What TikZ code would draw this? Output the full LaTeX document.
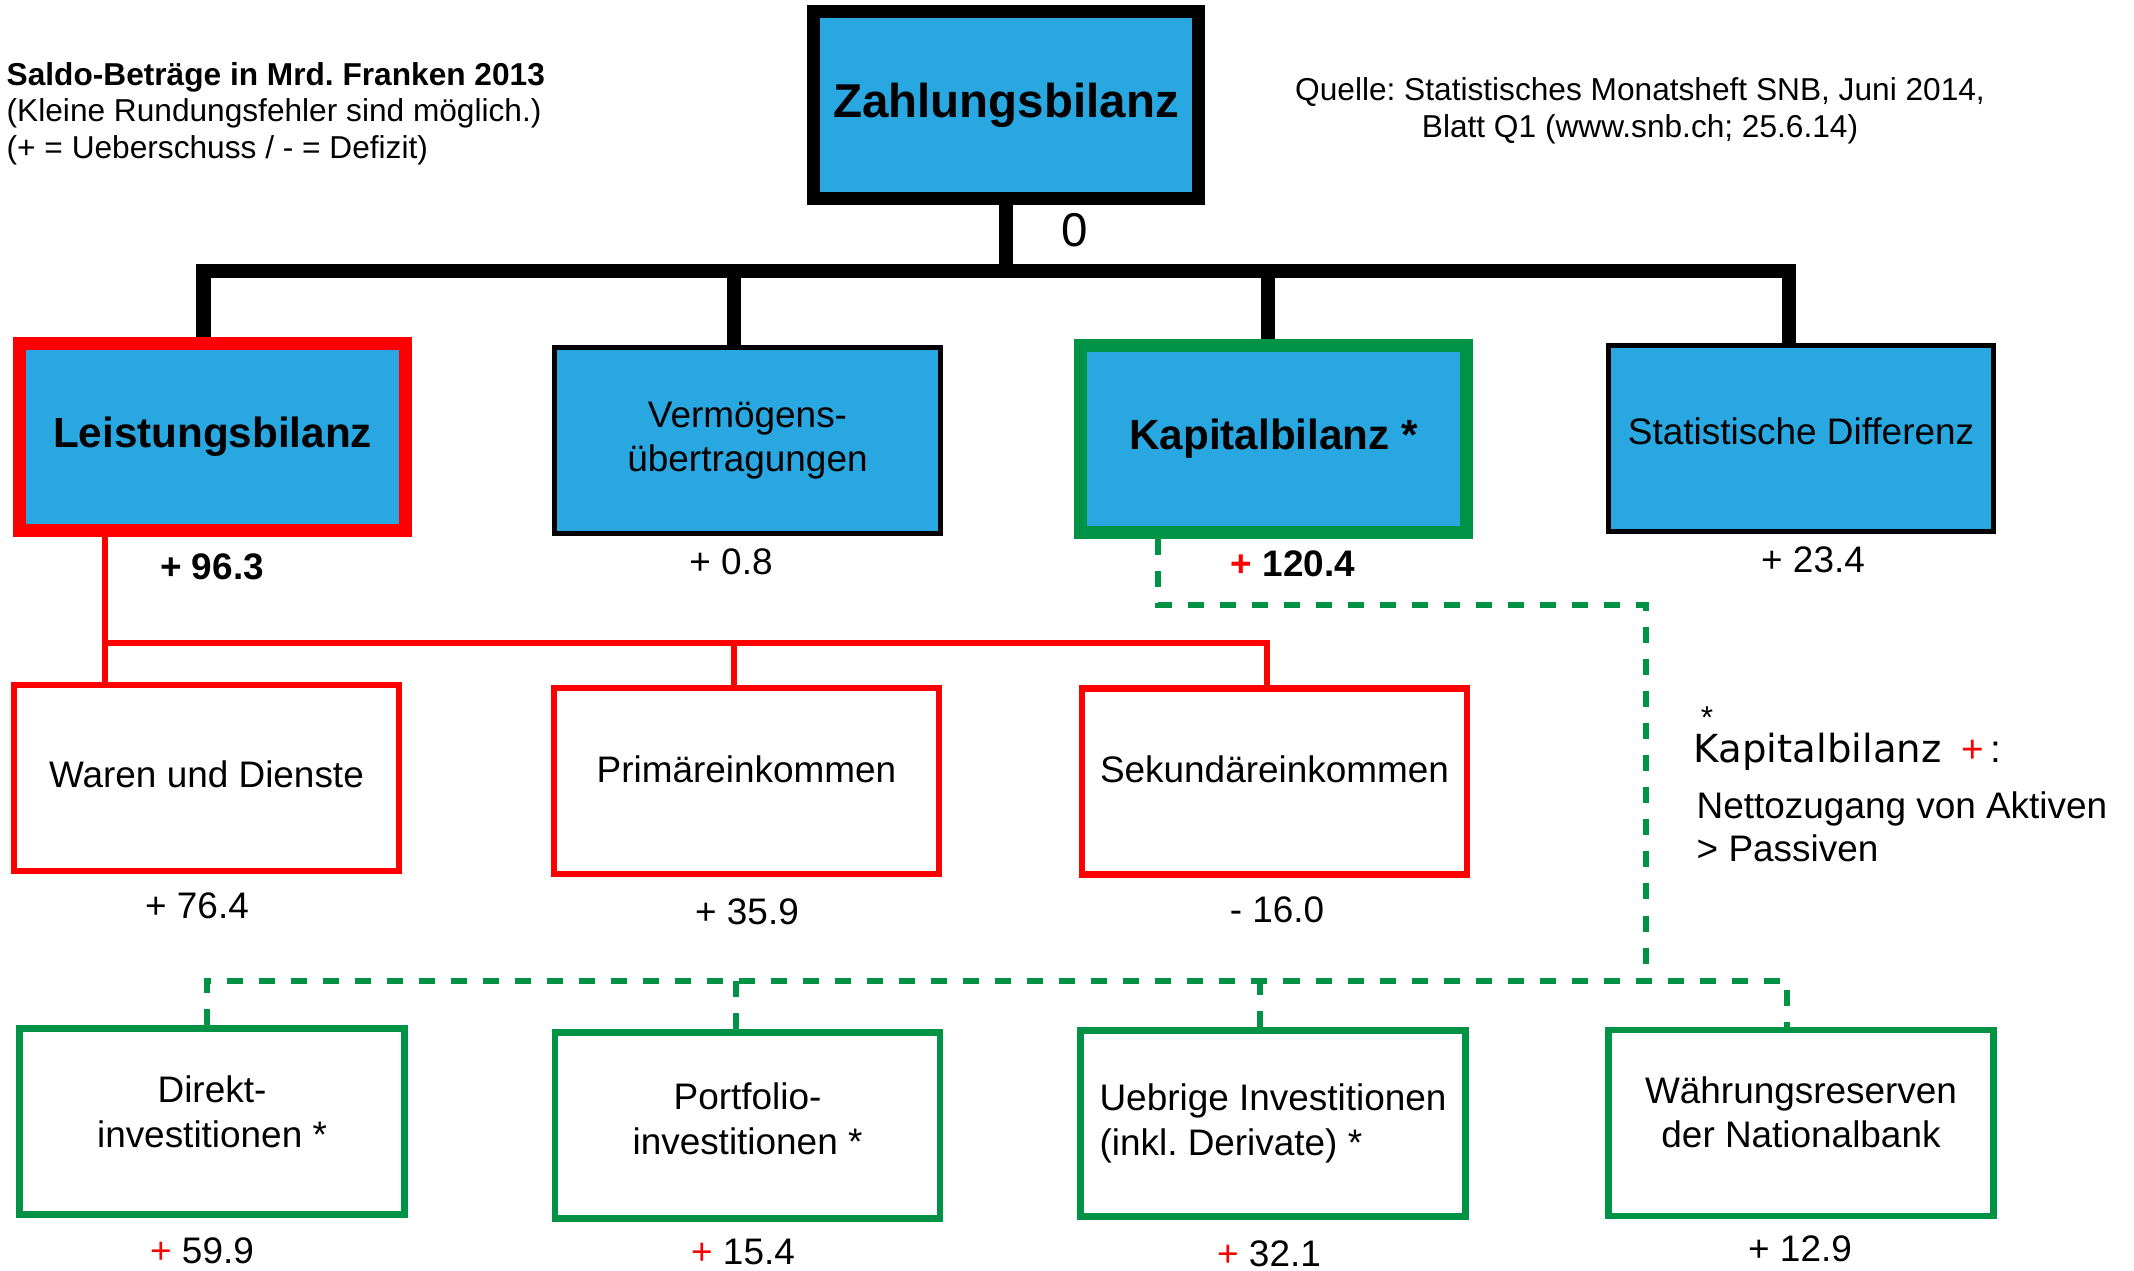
\documentclass[tikz,border=0pt]{standalone}
\usepackage{fontspec}
\setmainfont{Liberation Sans}
\newfontfamily\widefont{DejaVu Sans}
\frenchspacing
\usetikzlibrary{calc}

\definecolor{snbblue}{RGB}{41,167,224}
\definecolor{snbgreen}{RGB}{0,146,69}
\definecolor{snbred}{RGB}{255,0,0}

\tikzset{
  box/.style={draw, minimum width=3.85cm, minimum height=1.86cm, inner sep=0pt, align=center,
    font=\fontsize{10.5}{12.6}\selectfont},
  bluebox/.style={box, fill=snbblue, line width=0.05cm},
  bigbox/.style={box, fill=snbblue, line width=0.13cm, minimum height=1.87cm,
    font=\fontsize{12}{14}\selectfont\bfseries},
  redbox/.style={box, draw=snbred, line width=0.065cm},
  greenbox/.style={box, draw=snbgreen, line width=0.065cm},
  lift/.style={text depth=#1},
  value/.style={inner sep=0pt, font=\fontsize{10.5}{12.6}\selectfont},
  trunk/.style={line width=0.14cm},
  redline/.style={draw=snbred, line width=0.065cm},
  greenline/.style={draw=snbgreen, line width=0.065cm, dash pattern=on 0.16cm off 0.16cm},
}

\begin{document}
\begin{tikzpicture}[x=0.01cm, y=-0.01cm]
  \useasboundingbox (0,0) rectangle (2134,1271);

  % top
  \node (zb) [bigbox, draw=black, font=\fontsize{13.5}{16}\selectfont\bfseries] at (1006,105) {Zahlungsbilanz};
  \node (zero) [value, font=\fontsize{13.5}{16}\selectfont] at (1075,230) {0};

  % first row
  \node (lb) [bigbox, draw=snbred] at (212.5,437) {Leistungsbilanz};
  \node (vu) [bluebox] at (747.5,440.5) {Vermögens-\\übertragungen};
  \node (kb) [bigbox, draw=snbgreen] at (1273.5,439) {Kapitalbilanz *};
  \node (sd) [bluebox, lift=0.14cm] at (1801,438.5) {Statistische Differenz};

  \node (vlb) [value, font=\fontsize{10.5}{12.6}\selectfont\bfseries] at (212,567) {+ 96.3};
  \node (vvu) [value] at (731,562) {+ 0.8};
  \node (vkb) [value, font=\fontsize{10.5}{12.6}\selectfont\bfseries] at (1293,564) {\textcolor{snbred}{+} 120.4};
  \node (vsd) [value] at (1813,560) {+ 23.4};

  % second row
  \node (wd) [redbox, lift=0.08cm] at (206.5,778) {Waren und Dienste};
  \node (pe) [redbox, lift=0.24cm] at (746.5,781) {Primäreinkommen};
  \node (se) [redbox, lift=0.24cm] at (1274.5,781.5) {Sekundäreinkommen};

  \node (vwd) [value] at (197,906) {+ 76.4};
  \node (vpe) [value] at (747,912) {+ 35.9};
  \node (vse) [value] at (1277,910) {- 16.0};

  % third row
  \node (di) [greenbox, lift=0.2cm] at (212,1121.5) {Direkt-\\investitionen *};
  \node (po) [greenbox, lift=0.14cm] at (747.5,1125.5) {Portfolio-\\investitionen *};
  \node (ui) [greenbox, align=left] at (1273,1123.5) {Uebrige Investitionen\\(inkl. Derivate) *};
  \node (wr) [greenbox, lift=0.22cm] at (1801,1123) {Währungsreserven\\der Nationalbank};

  \node (vdi) [value] at (202,1251) {\textcolor{snbred}{+} 59.9};
  \node (vpo) [value] at (743,1252) {\textcolor{snbred}{+} 15.4};
  \node (vui) [value] at (1269,1254) {\textcolor{snbred}{+} 32.1};
  \node (vwr) [value] at (1800,1249) {+ 12.9};

  % texts
  \node (saldo) [inner sep=0pt, anchor=north west, align=left, font=\fontsize{9}{10.3}\selectfont]
    at (6,62) {\textbf{Saldo-Beträge in Mrd. Franken 2013}\\(Kleine Rundungsfehler sind möglich.)\\(+ = Ueberschuss / - = Defizit)};
  \node (quelle) [inner sep=0pt, align=center, font=\fontsize{9}{10.5}\selectfont]
    at (1640,111) {Quelle: Statistisches Monatsheft SNB, Juni 2014,\\Blatt Q1 (www.snb.ch; 25.6.14)};
  \node (legstar) [inner sep=0pt, font=\fontsize{9}{10}\selectfont] at (1707,718) {*};
  \node (legkb) [inner sep=0pt, anchor=base west, font=\fontsize{11}{13}\selectfont]
    at (1693,763) {{\widefont Kapitalbilanz}\hspace{0.2cm}\textcolor{snbred}{+}\,:};
  \node (legtext) [inner sep=0pt, anchor=north west, align=left, font=\fontsize{10.5}{12.1}\selectfont]
    at (1696,791) {Nettozugang von Aktiven\\> Passiven};

  % black connectors
  \coordinate (blackbus) at (0,271);
  \draw[trunk] (zb.south) -- (zb.south |- blackbus);
  \draw[trunk] ([xshift=-0.09cm]lb.north) |- ([xshift=-0.12cm]sd.north |- blackbus) -- ([xshift=-0.12cm]sd.north);
  \draw[trunk] ([xshift=-0.135cm]vu.north) -- ([xshift=-0.135cm]vu.north |- blackbus);
  \draw[trunk] ([xshift=-0.055cm]kb.north) -- ([xshift=-0.055cm]kb.north |- blackbus);

  % red connectors
  \coordinate (redbus) at (0,643);
  \draw[redline] ([xshift=-1.075cm]lb.south) -- ([xshift=-1.075cm]lb.south |- wd.north);
  \draw[redline] ([xshift=-1.075cm]lb.south |- redbus) -| ([xshift=-0.075cm]se.north);
  \draw[redline] ([xshift=-0.125cm]pe.north) -- ([xshift=-0.125cm]pe.north |- redbus);

  % green connectors
  \coordinate (greenbus) at (0,981);
  \coordinate (kbturn) at (1646,605);
  \draw[greenline] ([xshift=-1.155cm]kb.south) |- (kbturn) -- (kbturn |- greenbus);
  \draw[greenline] ([xshift=-0.05cm]di.north) |- ([xshift=-0.14cm]wr.north |- greenbus) -- ([xshift=-0.14cm]wr.north);
  \draw[greenline] ([xshift=-0.115cm]po.north) -- ([xshift=-0.115cm]po.north |- greenbus);
  \draw[greenline] ([xshift=-0.13cm]ui.north) -- ([xshift=-0.13cm]ui.north |- greenbus);
\end{tikzpicture}
\end{document}
